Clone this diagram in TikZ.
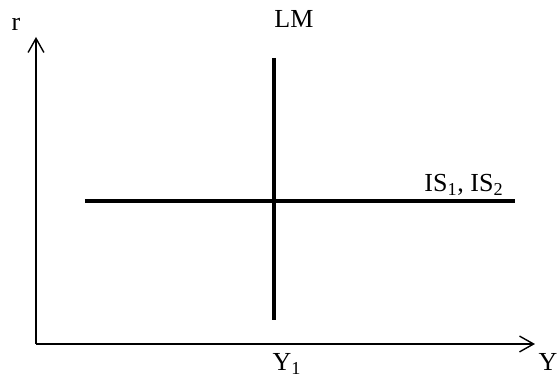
\documentclass[tikz,border=0pt]{standalone}
\usepackage{fontspec}
\setmainfont{Liberation Serif}
\usetikzlibrary{arrows.meta}

\begin{document}
\begin{tikzpicture}[x=0.02cm, y=0.02cm, >={Straight Barb[length=8pt, width=9pt]},
    font=\fontsize{14.8}{17}\selectfont]
  \tikzset{
    axis/.style={line width=0.8pt},
    curve/.style={line width=2.3pt},
    lbl/.style={inner sep=0pt, anchor=base}
  }
  \useasboundingbox (-36,-34) rectangle (523,344);

  % Achsen
  \coordinate (O) at (0,0);
  \coordinate (rtop) at (0,307);
  \coordinate (yend) at (499,0);
  \draw[axis, ->] (O) -- (rtop);
  \draw[axis, ->] (O) -- (yend);
  \node[lbl] (r) at (-20,313) {r};
  \node[lbl] (Y) at (512,-27) {Y};

  % LM
  \coordinate (lmtop) at (238,286);
  \coordinate (lmbot) at (238,24);
  \draw[curve] (lmtop) -- (lmbot);
  \node[lbl] (LM) at (258,316) {LM};
  \node[lbl] (Y1) at (251,-27) {Y\textsubscript{1}};

  % IS
  \coordinate (isleft) at (49,143);
  \coordinate (isright) at (479,143);
  \draw[curve] (isleft) -- (isright);
  \node[lbl] (IS) at (428,152) {IS\textsubscript{1}, IS\textsubscript{2}};
\end{tikzpicture}
\end{document}
